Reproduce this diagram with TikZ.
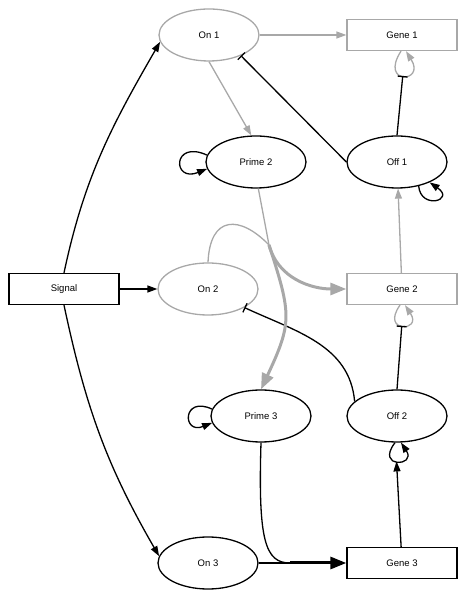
\documentclass[tikz,border=0pt]{standalone}
\usepackage{fontspec}
\setmainfont{Liberation Sans}
\usetikzlibrary{shapes.geometric,arrows.meta}
\definecolor{lgray}{gray}{0.66}

\begin{document}
\begin{tikzpicture}[x=1pt,y=1pt,font=\fontsize{9.5}{11}\selectfont,
  state/.style={ellipse,draw,line width=1.3pt,minimum width=100pt,minimum height=52pt,inner sep=0pt},
  gene/.style={rectangle,draw,line width=1.3pt,minimum width=110pt,minimum height=31pt,inner sep=0pt},
  act/.style={line width=1.3pt,-{Triangle[length=10pt,width=7pt]}},
  inh/.style={line width=1.3pt,-{Bar[width=10pt]}},
  big/.style={line width=3pt,-{Triangle[length=16pt,width=12pt]}}]
\useasboundingbox (0,0) rectangle (467,599);
% nodes, row by row
\node[state,draw=lgray] (on1) at (209,564) {On 1};
\node[gene,draw=lgray] (gene1) at (402,564) {Gene 1};
\node[state] (prime2) at (256,437) {Prime 2};
\node[state] (off1) at (397,437) {Off 1};
\node[gene] (signal) at (64,310) {Signal};
\node[state,draw=lgray] (on2) at (208,310) {On 2};
\node[gene,draw=lgray] (gene2) at (402,310) {Gene 2};
\node[state] (prime3) at (261,183) {Prime 3};
\node[state] (off2) at (397,183) {Off 2};
\node[state] (on3) at (208,36) {On 3};
\node[gene] (gene3) at (402,36) {Gene 3};
\coordinate (j2) at (269,354); % where prime 2 and on 2 meet
\coordinate (j3) at (290,36);
% signal
\draw[act] (signal.north) to[out=78,in=240] (on1.188);
\draw[act] (signal) -- (on2);
\draw[act] (signal.south) to[out=-78,in=120] (on3.172);
% first stage
\draw[act,lgray] (on1) -- (gene1);
\draw[act,lgray] (on1.south) -- (prime2.100);
\draw[act,lgray] (gene2) -- (off1);
\draw[act,lgray] ([xshift=-1pt]gene1.south) .. controls +(-22,-34) and +(20,-32) .. ([xshift=4pt]gene1.south) coordinate[pos=0.5] (g1loop);
\draw[inh] (off1.north) -- (g1loop);
\draw[inh] (off1.west) -- (on1.-33);
\draw[act] (off1.-48) .. controls +(2,-24) and +(26,-18) .. (off1.-32);
\draw[act] (prime2.172) .. controls +(-35,16) and +(-35,-14) .. (prime2.188);
% second stage
\draw[lgray,line width=1.3pt] (prime2.-85) -- (j2);
\draw[lgray,line width=1.3pt] (on2.north) .. controls (210,384) and (240,384) .. (j2);
\draw[big,lgray] (j2) to[out=-75,in=180] (gene2.west);
\draw[act,lgray] ([xshift=-2pt]gene2.south) .. controls +(-20,-28) and +(18,-27) .. ([xshift=3pt]gene2.south) coordinate[pos=0.5] (g2loop);
\draw[inh] (off2.north) -- (g2loop);
\draw[inh] (off2.161) to[out=95,in=-25] (on2.-27);
\draw[big,lgray] (j2) to[out=-72,in=65,looseness=1.3] (prime3.north);
\draw[act] (prime3.172) .. controls +(-30,14) and +(-30,-12) .. (prime3.188);
% third stage
\draw[act] ([xshift=-2pt]off2.south) .. controls +(-20,-26) and +(16,-24) .. ([xshift=4pt]off2.south) coordinate[pos=0.5] (o2loop);
\draw[act] (gene3) -- (o2loop);
\draw[line width=1.3pt] (prime3.south) .. controls (258,59) and (265,36) .. (j3);
\draw[line width=1.3pt] (on3) -- (j3);
\draw[big] (j3) -- (gene3);
\end{tikzpicture}
\end{document}
